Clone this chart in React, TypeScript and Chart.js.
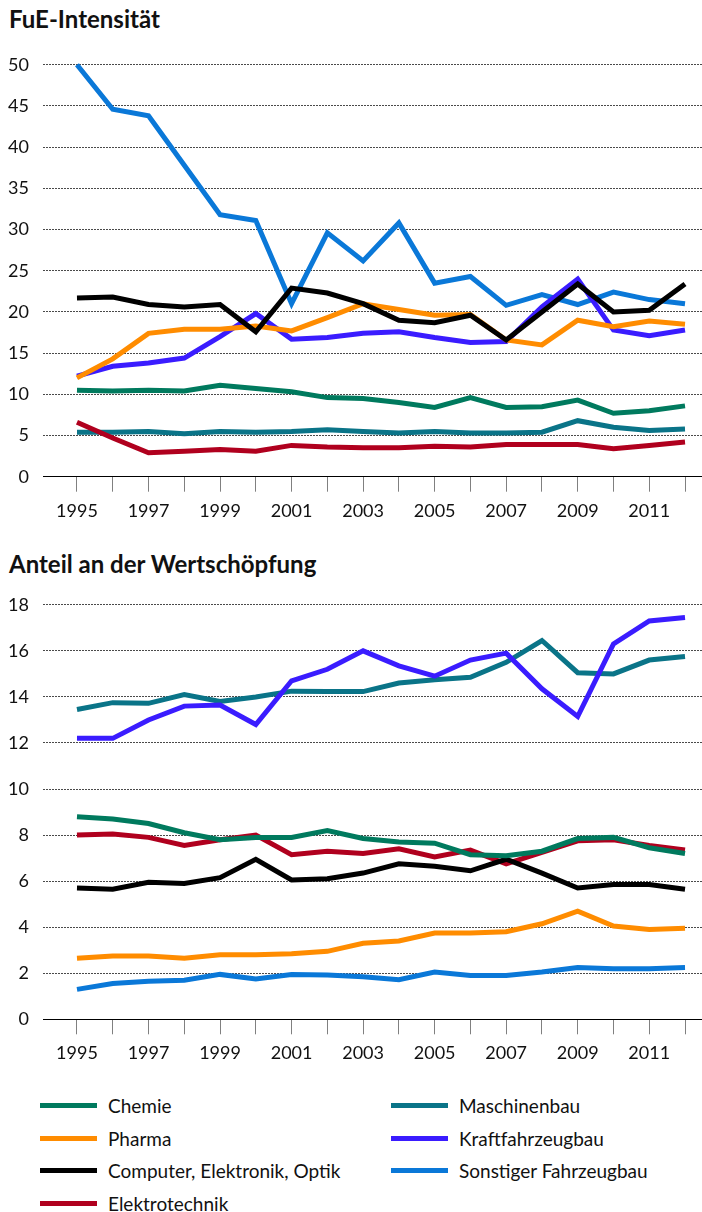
import React, { useEffect, useRef } from 'react';
import { Chart, registerables } from 'chart.js';
Chart.register(...registerables);

const years = [1995, 1996, 1997, 1998, 1999, 2000, 2001, 2002, 2003, 2004, 2005, 2006, 2007, 2008, 2009, 2010, 2011, 2012];
const xTickLabels = ['1995', '1997', '1999', '2001', '2003', '2005', '2007', '2009', '2011'];

// FuE-Intensität
const fueChemie = [10.5, 10.4, 10.5, 10.4, 11.1, 10.7, 10.3, 9.6, 9.5, 9.0, 8.4, 9.6, 8.4, 8.5, 9.3, 7.7, 8.0, 8.6];
const fuePharma = [12.0, 14.3, 17.4, 17.9, 17.9, 18.3, 17.7, 19.3, 21.0, 20.3, 19.6, 19.7, 16.6, 16.0, 19.0, 18.2, 18.9, 18.5];
const fueComputer = [21.7, 21.8, 20.9, 20.6, 20.9, 17.6, 22.9, 22.3, 21.0, 19.0, 18.7, 19.6, 16.6, 20.0, 23.4, 20.0, 20.2, 23.4];
const fueElektro = [6.6, 4.7, 2.9, 3.1, 3.3, 3.1, 3.8, 3.6, 3.5, 3.5, 3.7, 3.6, 3.9, 3.9, 3.9, 3.4, 3.8, 4.2];
const fueMaschinen = [5.4, 5.4, 5.5, 5.2, 5.5, 5.4, 5.5, 5.7, 5.5, 5.3, 5.5, 5.3, 5.3, 5.4, 6.8, 6.0, 5.6, 5.8];
const fueKfz = [12.2, 13.4, 13.8, 14.4, 17.0, 19.8, 16.7, 16.9, 17.4, 17.6, 16.9, 16.3, 16.4, 20.6, 24.0, 17.8, 17.1, 17.8];
const fueSonstiger = [50.0, 44.6, 43.8, 37.8, 31.8, 31.1, 21.0, 29.6, 26.2, 30.8, 23.5, 24.3, 20.8, 22.1, 20.9, 22.4, 21.5, 21.0];

// Anteil an der Wertschöpfung
const wsChemie = [8.8, 8.7, 8.5, 8.1, 7.8, 7.9, 7.9, 8.2, 7.85, 7.7, 7.65, 7.15, 7.1, 7.3, 7.85, 7.9, 7.45, 7.2];
const wsPharma = [2.65, 2.75, 2.75, 2.65, 2.8, 2.8, 2.85, 2.95, 3.3, 3.4, 3.75, 3.75, 3.8, 4.15, 4.7, 4.05, 3.9, 3.95];
const wsComputer = [5.7, 5.65, 5.95, 5.9, 6.15, 6.95, 6.05, 6.1, 6.35, 6.75, 6.65, 6.45, 6.95, 6.35, 5.7, 5.85, 5.85, 5.65];
const wsElektro = [8.0, 8.05, 7.9, 7.55, 7.8, 8.0, 7.15, 7.3, 7.2, 7.4, 7.05, 7.35, 6.75, 7.25, 7.75, 7.8, 7.55, 7.35];
const wsMaschinen = [13.45, 13.75, 13.72, 14.1, 13.8, 14.0, 14.25, 14.23, 14.23, 14.6, 14.75, 14.85, 15.5, 16.45, 15.05, 15.0, 15.6, 15.75];
const wsKfz = [12.2, 12.2, 13.0, 13.6, 13.65, 12.8, 14.7, 15.2, 16.0, 15.35, 14.9, 15.6, 15.9, 14.35, 13.15, 16.3, 17.3, 17.45];
const wsSonstiger = [1.3, 1.55, 1.65, 1.7, 1.95, 1.75, 1.95, 1.92, 1.85, 1.72, 2.05, 1.9, 1.9, 2.05, 2.25, 2.2, 2.2, 2.25];

const names = ['Chemie', 'Pharma', 'Computer, Elektronik, Optik', 'Elektrotechnik', 'Maschinenbau', 'Kraftfahrzeugbau', 'Sonstiger Fahrzeugbau'];
const colors = ['#007A5E', '#FF8C00', '#000000', '#B0001E', '#0A7488', '#3A1CFF', '#0A78D8'];
const drawOrder = [1, 3, 2, 5, 6, 4, 7];

const FONT = "Lato, 'Open Sans', sans-serif";

type Props = { values: number[][]; max: number; step: number; padTop: number; xHeight: number; top: number; height: number; labelPad: number };

function LineChart({ values, max, step, padTop, xHeight, top, height, labelPad }: Props) {
  const ref = useRef<HTMLCanvasElement>(null);
  useEffect(() => {
    if (!ref.current) return;
    const chart = new Chart(ref.current, {
      type: 'line',
      data: {
        datasets: values.map((vals, si) => ({
          label: names[si],
          data: years.map((yr, i) => ({ x: yr, y: vals[i] })),
          borderColor: colors[si],
          backgroundColor: colors[si],
          borderWidth: 5,
          pointRadius: 0,
          tension: 0,
          fill: false,
          clip: false,
          order: drawOrder[si],
          borderJoinStyle: 'miter',
        })),
      },
      options: {
        responsive: false,
        maintainAspectRatio: false,
        animation: false,
        layout: { padding: { top: padTop, left: 0, right: 0, bottom: 0 } },
        plugins: { legend: { display: false }, tooltip: { enabled: false } },
        scales: {
          x: {
            type: 'linear',
            min: 1994.05,
            max: 2012.475,
            afterBuildTicks: (s: any) => {
              s.ticks = years.map((v) => ({ value: v }));
            },
            afterFit: (s: any) => {
              s.height = xHeight;
            },
            grid: { drawOnChartArea: false, drawTicks: true, tickLength: 15, color: '#808080', lineWidth: 1 },
            border: { display: true, color: '#000', width: 1 },
            ticks: {
              autoSkip: false,
              maxRotation: 0,
              padding: labelPad,
              color: '#111',
              font: { family: FONT, size: 18 },
              callback: (v: any) => (xTickLabels.includes(String(v)) ? String(v) : ''),
            },
          },
          y: {
            min: 0,
            max,
            afterFit: (s: any) => {
              s.width = 43;
            },
            grid: {
              drawTicks: false,
              lineWidth: 1,
              color: (c: any) => (c.tick && c.tick.value === 0 ? 'rgba(0,0,0,0)' : '#4a4a4a'),
            },
            border: { display: false, dash: [2, 1] },
            ticks: { stepSize: step, padding: 14, color: '#111', font: { family: FONT, size: 18 } },
          },
        },
      },
    } as any);
    return () => chart.destroy();
  }, []);
  return <canvas ref={ref} width={702} height={height} style={{ position: 'absolute', left: 0, top, width: 702, height }} />;
}

export default function App() {
  const legendLeft = [0, 1, 2, 3];
  const legendRight = [4, 5, 6];
  const rowY = [1105, 1138, 1170, 1203];
  const legendItem = (idx: number, row: number, col: number) => (
    <React.Fragment key={idx}>
      <div style={{ position: 'absolute', left: col === 0 ? 40 : 391, top: rowY[row] - 2.5, width: 57, height: 5, background: colors[idx] }} />
      <div style={{ position: 'absolute', left: col === 0 ? 108 : 459, top: rowY[row] - 10, fontFamily: FONT, fontSize: 19, lineHeight: '22px', color: '#111', whiteSpace: 'nowrap' }}>
        {names[idx]}
      </div>
    </React.Fragment>
  );
  const titleStyle: React.CSSProperties = { position: 'absolute', left: 9, fontFamily: FONT, fontWeight: 700, fontSize: 24, lineHeight: '28px', color: '#111', whiteSpace: 'nowrap' };
  return (
    <div style={{ position: 'absolute', left: 0, top: 0, width: 702, height: 1212, background: '#fff', overflow: 'hidden' }}>
      <div style={{ ...titleStyle, top: 5 }}>FuE-Intensität</div>
      <LineChart
        values={[fueChemie, fuePharma, fueComputer, fueElektro, fueMaschinen, fueKfz, fueSonstiger]}
        max={50}
        step={5}
        padTop={20}
        xHeight={53.3}
        top={40}
        height={490}
        labelPad={9}
      />
      <div style={{ ...titleStyle, top: 550 }}>Anteil an der Wertschöpfung</div>
      <LineChart
        values={[wsChemie, wsPharma, wsComputer, wsElektro, wsMaschinen, wsKfz, wsSonstiger]}
        max={18}
        step={2}
        padTop={23.3}
        xHeight={50.7}
        top={580}
        height={490}
        labelPad={8}
      />
      {legendLeft.map((idx, r) => legendItem(idx, r, 0))}
      {legendRight.map((idx, r) => legendItem(idx, r, 1))}
    </div>
  );
}
